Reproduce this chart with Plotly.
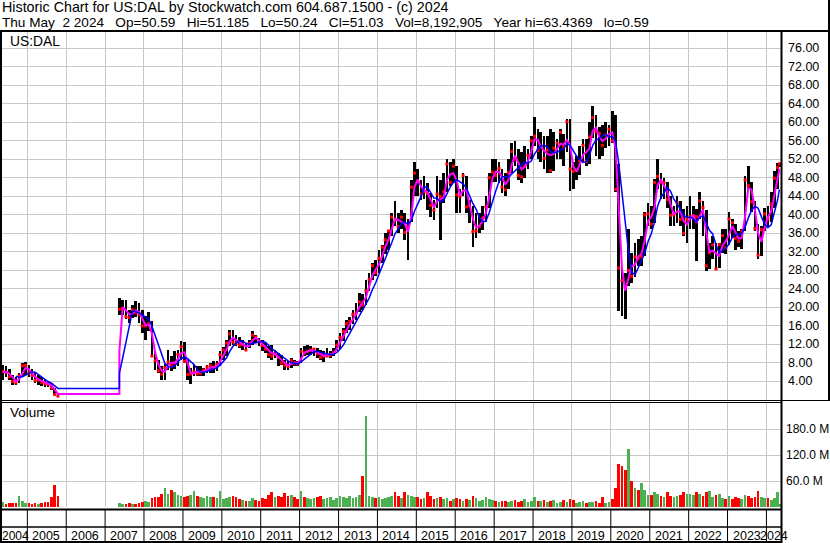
import pandas as pd
import plotly.graph_objects as go

W, H = 830, 543
FONT = "Liberation Sans, Arial, sans-serif"

# ---------------- data (monthly) ----------------
# era A: May 2004 - Oct 2005 (old DAL, before bankruptcy gap)
months_a = pd.period_range("2004-05", "2005-10", freq="M")
high_a = [7.6, 7.3, 6.8, 5.3, 5.0, 5.8, 8.0, 8.3,
          7.6, 6.7, 6.0, 5.3, 5.0, 4.5, 4.2, 3.7, 2.6, 1.5]
low_a = [4.4, 4.9, 4.4, 3.2, 3.2, 3.6, 4.9, 5.5,
         5.0, 4.3, 3.7, 3.3, 3.0, 2.9, 2.8, 2.2, 1.1, 0.59]
close_a = [6.2, 6.0, 5.0, 4.0, 3.7, 5.2, 7.4, 7.5,
           5.8, 5.3, 4.2, 4.3, 3.8, 3.5, 3.4, 2.6, 1.2, 0.85]
vol_a = [12, 8, 9, 10, 9, 25, 14, 10,
         9, 8, 10, 7, 9, 11, 12, 22, 50, 26]

# era B: May 2007 - May 2024
months_b = pd.period_range("2007-05", "2024-05", freq="M")
high_b = [
    22.0, 21.6, 21.5, 19.5, 20.6, 21.3, 20.9, 19.5,                      # 2007
    18.1, 19.1, 17.0, 10.5, 8.7, 7.3, 8.0, 10.8, 9.4, 10.5, 10.9, 12.7,  # 2008
    12.6, 8.7, 6.9, 7.6, 7.3, 7.3, 7.0, 7.6, 8.0, 8.4, 8.4, 10.5,        # 2009
    11.5, 13.0, 15.2, 15.2, 14.1, 13.7, 13.0, 12.3, 13.0, 14.8, 14.1, 13.4,  # 2010
    13.0, 12.3, 11.6, 11.9, 10.9, 10.1, 9.8, 8.7, 8.4, 9.1, 8.7, 8.4,    # 2011
    11.2, 11.6, 11.9, 11.6, 11.2, 11.2, 10.9, 10.5, 11.2, 10.5, 11.2, 13.0,  # 2012
    14.5, 15.5, 17.3, 17.9, 19.4, 20.9, 23.1, 23.0, 26.0, 27.4, 29.6, 30.3,  # 2013
    32.5, 33.5, 36.0, 36.8, 40.4, 43.0, 40.4, 41.0, 40.4, 39.0, 47.6, 51.3,  # 2014
    49.8, 47.6, 48.4, 46.9, 44.7, 43.3, 48.4, 47.6, 49.1, 52.0, 51.3, 52.0,  # 2015
    50.5, 45.5, 49.0, 48.4, 43.3, 41.8, 40.4, 40.4, 42.0, 44.0, 49.1, 52.0,  # 2016
    52.0, 51.3, 50.0, 49.0, 52.0, 55.6, 56.0, 54.2, 53.5, 54.9, 54.2, 57.1,  # 2017
    61.1, 58.5, 57.8, 57.1, 57.1, 58.5, 57.8, 56.4, 58.5, 57.5, 60.7, 60.7,  # 2018
    51.3, 52.7, 54.9, 56.4, 56.4, 60.0, 63.4, 61.5, 59.0, 59.3, 60.0, 59.3,  # 2019
    62.5, 61.5, 51.0, 28.2, 27.5, 36.9, 31.8, 34.0, 34.7, 35.4, 40.5, 42.6,  # 2020
    42.0, 47.7, 52.0, 49.0, 48.0, 47.0, 44.0, 41.9, 44.0, 43.0, 41.2, 41.9,  # 2021
    44.0, 42.0, 41.2, 45.0, 43.0, 41.0, 34.0, 35.5, 34.0, 34.0, 36.9, 36.9,  # 2022
    40.5, 39.0, 38.0, 36.5, 37.0, 48.4, 50.6, 47.0, 43.0, 38.0, 37.5, 41.5,  # 2023
    42.0, 45.0, 49.5, 51.2, 51.185,                                      # 2024
]
low_b = [
    18.4, 18.3, 17.4, 16.6, 17.7, 18.0, 16.6, 14.5,
    13.0, 15.0, 9.4, 6.5, 5.8, 4.3, 4.4, 6.5, 6.2, 6.6, 7.4, 8.7,
    8.0, 4.4, 3.5, 5.1, 5.1, 5.1, 5.1, 5.8, 5.8, 5.8, 6.2, 7.3,
    8.7, 9.4, 11.6, 11.9, 11.6, 11.2, 10.9, 10.5, 11.2, 11.9, 12.3, 11.6,
    10.5, 10.1, 9.1, 8.7, 9.1, 7.3, 7.6, 6.5, 6.5, 6.9, 7.3, 7.3,
    8.0, 9.4, 9.8, 9.8, 9.4, 9.1, 8.7, 8.3, 9.4, 9.1, 9.4, 10.5,
    11.0, 12.8, 14.4, 15.1, 16.5, 17.2, 19.0, 19.5, 20.5, 23.5, 26.0, 26.7,
    27.5, 29.5, 31.5, 32.3, 35.5, 37.5, 36.0, 37.0, 34.5, 30.2, 38.5, 44.0,
    44.0, 43.3, 43.5, 41.1, 39.6, 38.9, 41.5, 34.5, 42.5, 45.0, 46.2, 46.9,
    40.4, 40.4, 44.0, 40.4, 38.2, 33.1, 35.0, 36.0, 36.8, 38.5, 41.5, 47.0,
    47.0, 46.9, 44.7, 44.0, 45.5, 49.0, 50.5, 47.6, 46.9, 48.0, 49.8, 52.0,
    54.9, 52.0, 51.3, 49.8, 49.1, 49.1, 49.5, 52.0, 52.0, 50.5, 53.5, 45.2,
    45.5, 47.6, 48.5, 51.3, 50.5, 51.0, 56.5, 52.7, 52.0, 52.7, 54.5, 54.9,
    55.5, 45.0, 19.2, 18.1, 17.5, 24.6, 25.3, 26.5, 28.9, 29.0, 31.0, 37.6,
    36.9, 38.3, 45.5, 43.4, 43.4, 41.5, 37.6, 37.6, 38.3, 37.6, 35.4, 34.0,
    37.0, 36.9, 30.0, 39.0, 35.4, 27.8, 28.2, 30.4, 28.2, 28.5, 31.8, 31.5,
    33.5, 35.0, 32.5, 33.0, 32.6, 36.5, 45.5, 40.5, 36.5, 30.4, 31.0, 36.5,
    37.5, 38.5, 41.5, 45.5, 50.24,
]
close_b = [
    19.6, 19.8, 18.0, 17.8, 19.5, 19.0, 18.5, 16.0,
    16.0, 16.5, 9.5, 8.5, 6.3, 5.6, 7.0, 8.2, 7.4, 8.0, 9.8, 11.5,
    8.3, 5.5, 5.6, 6.1, 5.6, 5.8, 6.5, 7.1, 7.5, 7.1, 7.7, 9.8,
    10.8, 12.3, 14.3, 12.5, 12.2, 11.8, 12.0, 10.8, 12.2, 14.0, 13.6, 12.6,
    11.8, 11.0, 9.8, 9.5, 9.9, 9.2, 8.0, 7.5, 7.2, 8.5, 8.0, 7.8,
    10.5, 10.2, 10.5, 10.8, 11.0, 10.0, 9.2, 9.5, 9.5, 9.6, 10.2, 11.9,
    13.5, 14.8, 16.5, 17.0, 18.5, 18.8, 21.2, 20.5, 23.6, 26.0, 29.0, 27.5,
    30.6, 33.0, 34.6, 36.5, 39.5, 38.9, 37.5, 39.5, 36.2, 37.5, 46.0, 49.0,
    47.3, 44.5, 45.0, 44.6, 42.0, 41.0, 44.5, 44.0, 45.0, 51.0, 47.0, 50.5,
    44.3, 44.0, 48.5, 41.7, 42.0, 36.4, 36.5, 37.5, 39.3, 41.7, 48.0, 49.2,
    48.5, 50.0, 46.0, 45.4, 49.1, 53.7, 52.0, 48.5, 48.2, 50.5, 52.8, 56.0,
    57.0, 53.9, 54.8, 52.2, 54.0, 49.5, 54.4, 55.5, 57.8, 54.7, 60.1, 49.9,
    49.4, 49.6, 51.6, 55.0, 51.5, 56.8, 61.0, 58.0, 57.6, 55.0, 57.3, 58.5,
    56.0, 45.5, 28.5, 25.8, 24.5, 28.0, 26.7, 30.9, 30.6, 31.0, 40.0, 40.2,
    38.0, 47.0, 48.3, 46.9, 47.0, 43.3, 39.9, 40.0, 42.6, 39.0, 36.0, 39.0,
    39.6, 39.8, 39.6, 43.0, 41.6, 29.0, 31.8, 33.5, 28.3, 33.6, 35.5, 32.9,
    39.1, 38.3, 34.9, 34.3, 36.4, 47.5, 46.3, 42.8, 37.0, 31.3, 36.8, 40.2,
    39.1, 42.3, 47.9, 50.2, 51.03,
]
vol_b = [
    9, 7, 8, 10, 7, 8, 10, 11,
    14, 12, 20, 24, 22, 30, 45, 30, 40, 35, 28, 25,
    22, 25, 28, 38, 25, 22, 20, 25, 22, 24, 20, 38,
    18, 20, 22, 25, 22, 18, 16, 15, 14, 20, 16, 14,
    20, 18, 28, 35, 24, 25, 22, 32, 25, 28, 22, 18,
    36, 22, 20, 18, 20, 22, 25, 18, 20, 22, 16, 20,
    25, 22, 20, 26, 20, 24, 28, 72, 210, 25, 22, 20,
    22, 18, 20, 22, 25, 35, 25, 20, 35, 28, 25, 24,
    22, 18, 20, 34, 25, 18, 20, 22, 18, 20, 15, 18,
    20, 18, 15, 18, 16, 26, 20, 14, 16, 22, 18, 16,
    15, 12, 14, 15, 12, 14, 16, 12, 14, 18, 12, 14,
    22, 15, 14, 16, 12, 14, 16, 10, 12, 16, 12, 18,
    16, 10, 12, 14, 10, 12, 12, 14, 10, 22, 10, 12,
    18, 45, 100, 95, 85, 135, 60, 45, 40, 55, 40, 28,
    28, 35, 30, 25, 24, 35, 25, 22, 25, 28, 35, 30,
    30, 28, 35, 30, 25, 35, 38, 22, 28, 30, 20, 18,
    25, 18, 22, 20, 18, 28, 25, 20, 22, 38, 22, 20,
    20, 16, 20, 35, 8,
]

last_day = "2024-05-02"
year_labels = ["2004", "2005", "2006", "2007", "2008", "2009", "2010", "2011",
               "2012", "2013", "2014", "2015", "2016", "2017", "2018", "2019",
               "2020", "2021", "2022", "2023", "2024"]
price_ticks = [4, 8, 12, 16, 20, 24, 28, 32, 36, 40, 44, 48, 52, 56, 60, 64, 68, 72, 76]
price_tick_text = ["4.00", "8.00", "12.00", "16.00", "20.00", "24.00", "28.00",
                   "32.00", "36.00", "40.00", "44.00", "48.00", "52.00", "56.00",
                   "60.00", "64.00", "68.00", "72.00", "76.00"]
vol_ticks = [60, 120, 180]
vol_tick_text = ["60.0 M", "120.0 M", "180.0 M"]

header1 = "Historic Chart for US:DAL by Stockwatch.com 604.687.1500 - (c) 2024"
header2 = ("Thu May  2 2024   Op=50.59   Hi=51.185   Lo=50.24   Cl=51.03   "
           "Vol=8,192,905   Year hi=63.4369   lo=0.59")

# ---------------- build frames ----------------
def dates_of(periods):
    return [f"{p.year}-{p.month:02d}-15" for p in periods]

dates_a = dates_of(months_a)
dates_b = dates_of(months_b)
dates_b[-1] = last_day

df = pd.DataFrame({
    "date": dates_a + dates_b,
    "high": high_a + high_b,
    "low": low_a + low_b,
    "close": close_a + close_b,
    "vol": vol_a + vol_b,
    "era": ["a"] * len(dates_a) + ["b"] * len(dates_b),
})
df["typ"] = (df["high"] + df["low"] + df["close"]) / 3
df["ma_fast"] = df["typ"].rolling(2, min_periods=1).mean()
df["ma_slow"] = df["typ"].rolling(5).mean()
chg = df["close"].diff().fillna(0)
df["vcol"] = ["#ff0000" if c < 0 else "#4caf50" for c in chg]

da = df[df.era == "a"]
db = df[df.era == "b"]

def gap_line(col):
    xs = list(da["date"]) + [db["date"].iloc[0]] + list(db["date"])
    ys = list(da[col]) + [da[col].iloc[-1]] + list(db[col])
    return xs, ys

DAY = 86400000
fig = go.Figure()

fig.add_trace(go.Bar(x=df["date"], y=df["high"] - df["low"], base=df["low"],
                     width=25 * DAY, marker=dict(color="black", line=dict(width=0)),
                     xaxis="x", yaxis="y", showlegend=False))
fig.add_trace(go.Scatter(x=df["date"], y=df["close"], mode="markers",
                         marker=dict(symbol="square", size=3, color="#ff0000",
                                     line=dict(width=0)),
                         xaxis="x", yaxis="y", showlegend=False))
xs, ys = gap_line("ma_fast")
fig.add_trace(go.Scatter(x=xs, y=ys, mode="lines", line=dict(color="#ff00ff", width=2),
                         xaxis="x", yaxis="y", showlegend=False))
xs, ys = gap_line("ma_slow")
fig.add_trace(go.Scatter(x=xs, y=ys, mode="lines", line=dict(color="#0000ff", width=1.5),
                         xaxis="x", yaxis="y", showlegend=False))
fig.add_trace(go.Bar(x=df["date"], y=df["vol"], width=25 * DAY,
                     marker=dict(color=df["vcol"], line=dict(width=0)),
                     xaxis="x2", yaxis="y2", showlegend=False))

def fx(px):
    return px / W

def fy(py):
    return 1 - py / H

GRID = "#c8c8c8"
xcommon = dict(type="date", range=["2004-05-08", "2024-05-17"],
               domain=[fx(2), fx(781)], showticklabels=False, ticks="",
               showgrid=True, gridcolor=GRID, gridwidth=1,
               dtick="M12", tick0="2005-01-01", zeroline=False, showline=False)
fig.update_layout(
    width=W, height=H, autosize=False,
    margin=dict(l=0, r=0, t=0, b=0, pad=0),
    paper_bgcolor="white", plot_bgcolor="white",
    barmode="overlay", bargap=0, showlegend=False,
    font=dict(family=FONT, size=12, color="black"),
    xaxis=dict(anchor="y", **xcommon),
    xaxis2=dict(anchor="y2", matches="x", **xcommon),
    yaxis=dict(domain=[fy(400), fy(31)], range=[0, 79.7], dtick=4, tick0=0,
               showgrid=True, gridcolor=GRID, gridwidth=1, showticklabels=False,
               ticks="", zeroline=False, showline=False),
    yaxis2=dict(domain=[fy(507), fy(403)], range=[0, 240], dtick=60, tick0=0,
                showgrid=True, gridcolor=GRID, gridwidth=1, showticklabels=False,
                ticks="", zeroline=False, showline=False),
)

shapes = []
def pline(x0, y0, x1, y1, w=1):
    shapes.append(dict(type="line", xref="paper", yref="paper",
                       x0=fx(x0), y0=fy(y0), x1=fx(x1), y1=fy(y1),
                       line=dict(color="black", width=w), layer="above"))

pline(0, 31, W, 31, 2)          # under header
pline(1, 31, 1, H, 2)           # left border
pline(781.5, 31, 781.5, H, 2)   # price/volume right edge
pline(829, 0, 829, 400, 2)      # outer right border
pline(0, 400.5, W, 400.5, 1)    # double separator
pline(0, 402.5, 781, 402.5, 1)
pline(0, 509.5, 781, 509.5, 2)  # bottom of volume panel
pline(0, 527, 781, 527, 1.5)    # axis rows separator
pline(0, 542, 781, 542, 2)      # bottom border

for yl in year_labels[1:]:
    shapes.append(dict(type="line", xref="x", yref="paper",
                       x0=f"{yl}-01-01", x1=f"{yl}-01-01", y0=fy(542), y1=fy(510),
                       line=dict(color="black", width=1), layer="above"))

annotations = []
def text(x, y, s, size=13.3, xanchor="left", xref="paper", yref="paper", xshift=0):
    annotations.append(dict(x=x, y=y, xref=xref, yref=yref, text=s, showarrow=False,
                            xanchor=xanchor, yanchor="middle", xshift=xshift,
                            font=dict(family=FONT, size=size, color="black")))

nb = "\u00a0"
text(fx(0), fy(7), header1.replace(" ", nb), size=14.3)
text(fx(0), fy(22), header2.replace(" ", nb), size=13.6)
text(fx(8), fy(41), "US:DAL", size=13.8)
text(fx(8), fy(413), "Volume", size=13.5)

for v, s in zip(price_ticks, price_tick_text):
    text(fx(786), v, s, size=12.5, yref="y")
for v, s in zip(vol_ticks, vol_tick_text):
    text(fx(784), v, s, size=12, yref="y2")

ylab = fy(535.5)
for yl in year_labels:
    if yl == "2004":
        text(fx(0), ylab, yl, size=12, xanchor="left")
    elif yl == "2024":
        text("2024-01-01", ylab, yl, size=12.5, xanchor="left", xref="x", xshift=-8)
    else:
        text(f"{yl}-01-01", ylab, yl, size=12.5, xanchor="left", xref="x", xshift=3)

fig.update_layout(shapes=shapes, annotations=annotations)

fig.write_html("out.html", config={"displayModeBar": False},
               post_script="document.body.style.margin='0';document.body.style.overflow='hidden';")
